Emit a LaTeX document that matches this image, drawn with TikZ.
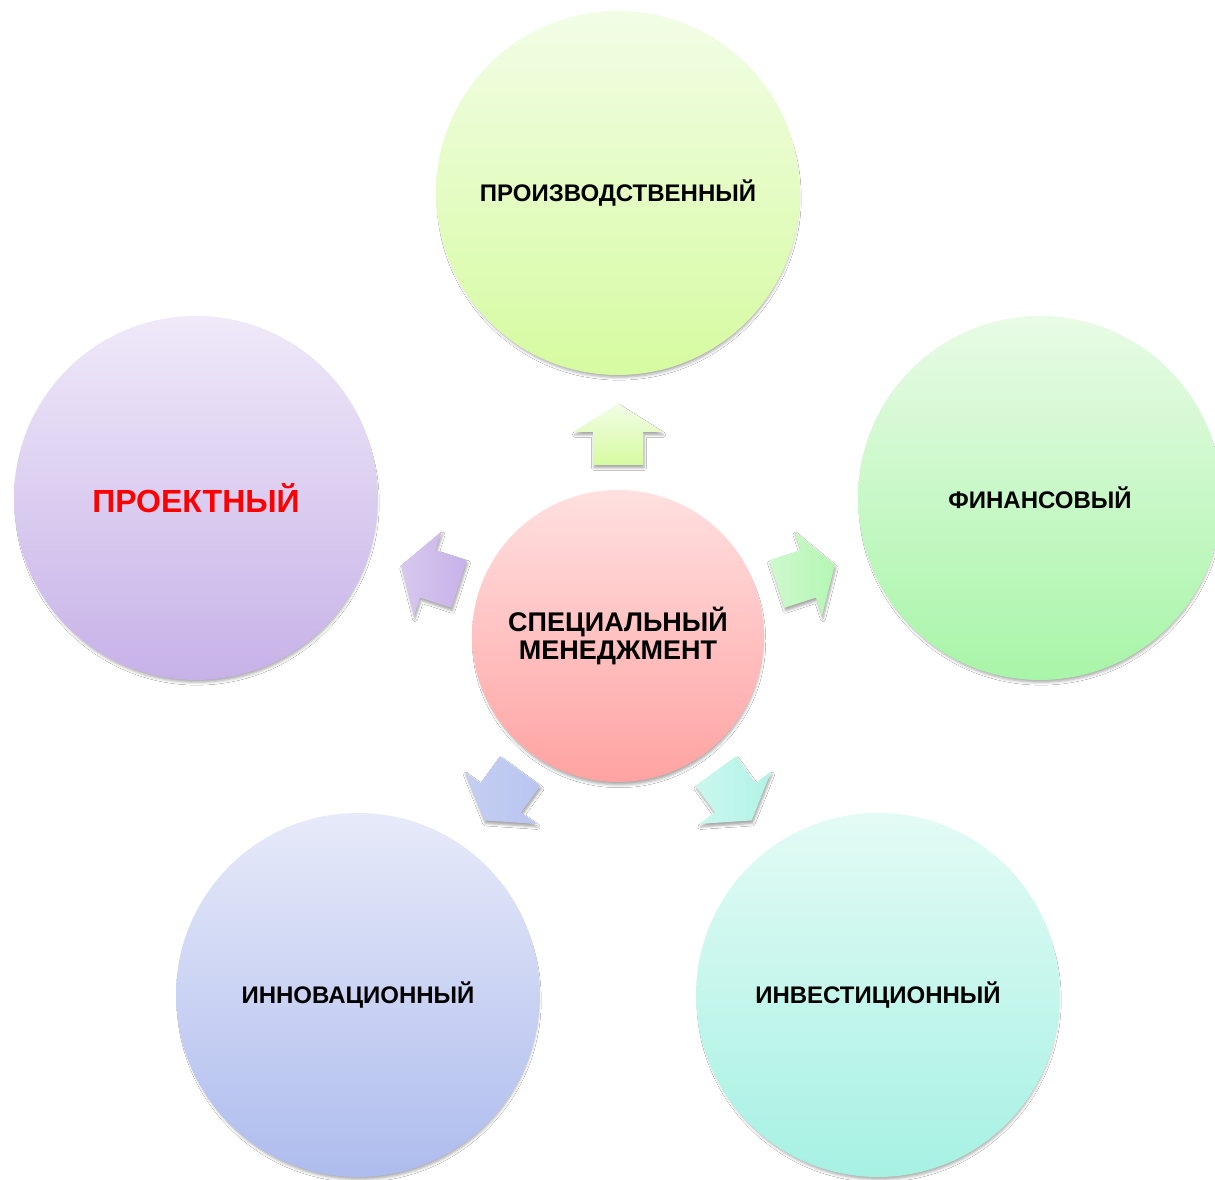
\documentclass[tikz,border=0pt]{standalone}
\usepackage{fontspec}
\setmainfont{Liberation Sans}
\usetikzlibrary{calc,shadows.blur}
\definecolor{topA}{HTML}{F2FDE6}\definecolor{topB}{HTML}{D6FBA0}
\definecolor{rgtA}{HTML}{E8FBE6}\definecolor{rgtB}{HTML}{A8F5A8}
\definecolor{lftA}{HTML}{EFE9F9}\definecolor{lftB}{HTML}{C7B2E8}
\definecolor{blA}{HTML}{E7EAF9}\definecolor{blB}{HTML}{AEBCEE}
\definecolor{brA}{HTML}{E3FBF5}\definecolor{brB}{HTML}{A6F1E3}
\definecolor{cA}{HTML}{FFE0E0}\definecolor{cB}{HTML}{FFA3A2}
\definecolor{labred}{HTML}{FF0000}
\tikzset{
  softshadow/.style={blur shadow={shadow xshift=1pt, shadow yshift=-5pt, shadow scale=0.985, shadow opacity=35, shadow blur radius=3pt}},
  bigcirc/.style={circle, minimum size=364pt, inner sep=0pt, align=center,
    font=\fontsize{24}{28}\selectfont\bfseries, softshadow},
  midcirc/.style={circle, minimum size=292pt, inner sep=0pt, align=center,
    font=\fontsize{27}{28}\selectfont\bfseries, top color=cA, bottom color=cB, softshadow},
  radarrow/.style={blur shadow={shadow xshift=1pt, shadow yshift=-3pt, shadow opacity=35, shadow blur radius=2.5pt}}
}
\newcommand{\radarrowpath}{(-30.5,-25) -- (2.5,-25) -- (2.5,-44.5) -- (30.5,0) -- (2.5,44.5) -- (2.5,25) -- (-30.5,25) -- cycle}
\begin{document}
\begin{tikzpicture}[x=1pt,y=1pt]
\useasboundingbox[fill=white] (0,0) rectangle (1215,1180);
% outer circles
\node[bigcirc, top color=topA, bottom color=topB] (T) at (618,987) {ПРОИЗВОДСТВЕННЫЙ};
\node[bigcirc, top color=rgtA, bottom color=rgtB] (R) at (1040,682) {ФИНАНСОВЫЙ};
\node[bigcirc, top color=lftA, bottom color=lftB, font=\fontsize{32}{36}\selectfont\bfseries, text=labred] (L) at (196,682) {ПРОЕКТНЫЙ};
\node[bigcirc, top color=blA, bottom color=blB] (BL) at (358,185) {ИННОВАЦИОННЫЙ};
\node[bigcirc, top color=brA, bottom color=brB] (BR) at (878,185) {ИНВЕСТИЦИОННЫЙ};
% centre
\node[midcirc] (C) at (618,544) {СПЕЦИАЛЬНЫЙ\\МЕНЕДЖМЕНТ};
% arrows
\coordinate (aT) at ($(C.center)!0.455!(T.center)$);
\coordinate (aR) at ($(C.center)!0.445!(R.center)$);
\coordinate (aL) at ($(C.center)!0.445!(L.center)$);
\coordinate (aBL) at ($(C.center)!0.445!(BL.center)$);
\coordinate (aBR) at ($(C.center)!0.445!(BR.center)$);
\begin{scope}[shift={(aT)}, rotate=90]
  \path[radarrow, top color=topA, bottom color=topB] \radarrowpath;
\end{scope}
\begin{scope}[shift={(aR)}, rotate=18]
  \path[radarrow, left color=rgtA!60!rgtB, right color=rgtB!80!rgtA] \radarrowpath;
\end{scope}
\begin{scope}[shift={(aL)}, rotate=162]
  \path[radarrow, left color=lftA!40!lftB, right color=lftB] \radarrowpath;
\end{scope}
\begin{scope}[shift={(aBL)}, rotate=-126]
  \path[radarrow, left color=blA!40!blB, right color=blB!80!blA] \radarrowpath;
\end{scope}
\begin{scope}[shift={(aBR)}, rotate=-54]
  \path[radarrow, left color=brA!60!brB, right color=brB!80!brA] \radarrowpath;
\end{scope}
\end{tikzpicture}
\end{document}
